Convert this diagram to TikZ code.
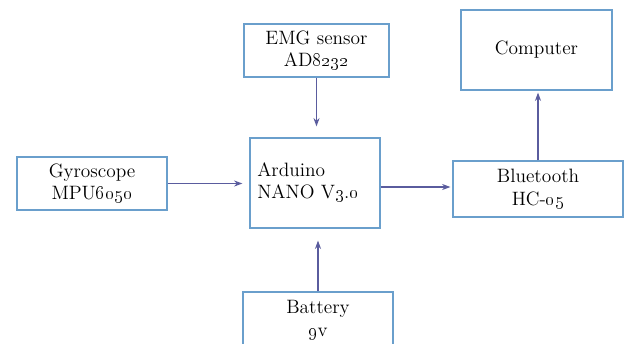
\documentclass[tikz,border=0pt]{standalone}
\usepackage{xcolor}
\usepackage{tikz}
\usetikzlibrary{arrows.meta,positioning}
\definecolor{boxc}{HTML}{6A9FCC}
\definecolor{arc}{HTML}{5A5C9E}
\tikzset{
  ar/.style={-{Stealth[length=2.2mm,width=1.6mm]},line width=0.8pt,arc},
  box/.style={draw=boxc,line width=0.9pt,align=center,inner sep=2pt,
    font=\fontsize{14.5}{17}\selectfont}
}
\newcommand{\on}[1]{\oldstylenums{#1}}

\begin{document}
\begin{tikzpicture}[x=0.75pt,y=-0.75pt]
\clip (0,0) rectangle (624,343);
\fill[white] (0,0) rectangle (624,343);
% blocks
\node[box,minimum width=145*0.75pt,minimum height=53*0.75pt] (emg) at (316.5,50.5) {EMG sensor\\AD\on{8232}};
\node[box,minimum width=150*0.75pt,minimum height=53*0.75pt] (gyro) at (92,183.5) {Gyroscope\\MPU\on{6050}};
\node[box,minimum width=130*0.75pt,minimum height=90*0.75pt] (ard) at (315,183) {};
\node[font=\fontsize{14.5}{17}\selectfont,align=left,anchor=north west,inner sep=0pt] (ardtxt) at (257,162) {Arduino\\NANO V\on{3}.\on{0}};
\node[box,minimum width=151*0.75pt,minimum height=80*0.75pt] (comp) at (536.5,50) {Computer};
\node[box,minimum width=170*0.75pt,minimum height=56*0.75pt] (bt) at (538,189) {Bluetooth\\HC-\on{05}};
\node[box,minimum width=150*0.75pt,minimum height=56*0.75pt] (bat) at (318,320) {Battery\\\on{9}v};
% links
\draw[ar,shorten >=11*0.75pt] (emg.south) -- (emg.south |- ard.north);
\draw[ar,shorten >=7*0.75pt] (gyro.east) -- (gyro.east -| ard.west);
\draw[ar,shorten >=2*0.75pt] ([yshift=1.5pt]ard.east |- bt.west) -- ([yshift=1.5pt]bt.west);
\draw[ar,shorten >=2*0.75pt] (bt.north) -- (bt.north |- comp.south);
\draw[ar,shorten >=12*0.75pt] (bat.north) -- (bat.north |- ard.south);
\end{tikzpicture}
\end{document}
